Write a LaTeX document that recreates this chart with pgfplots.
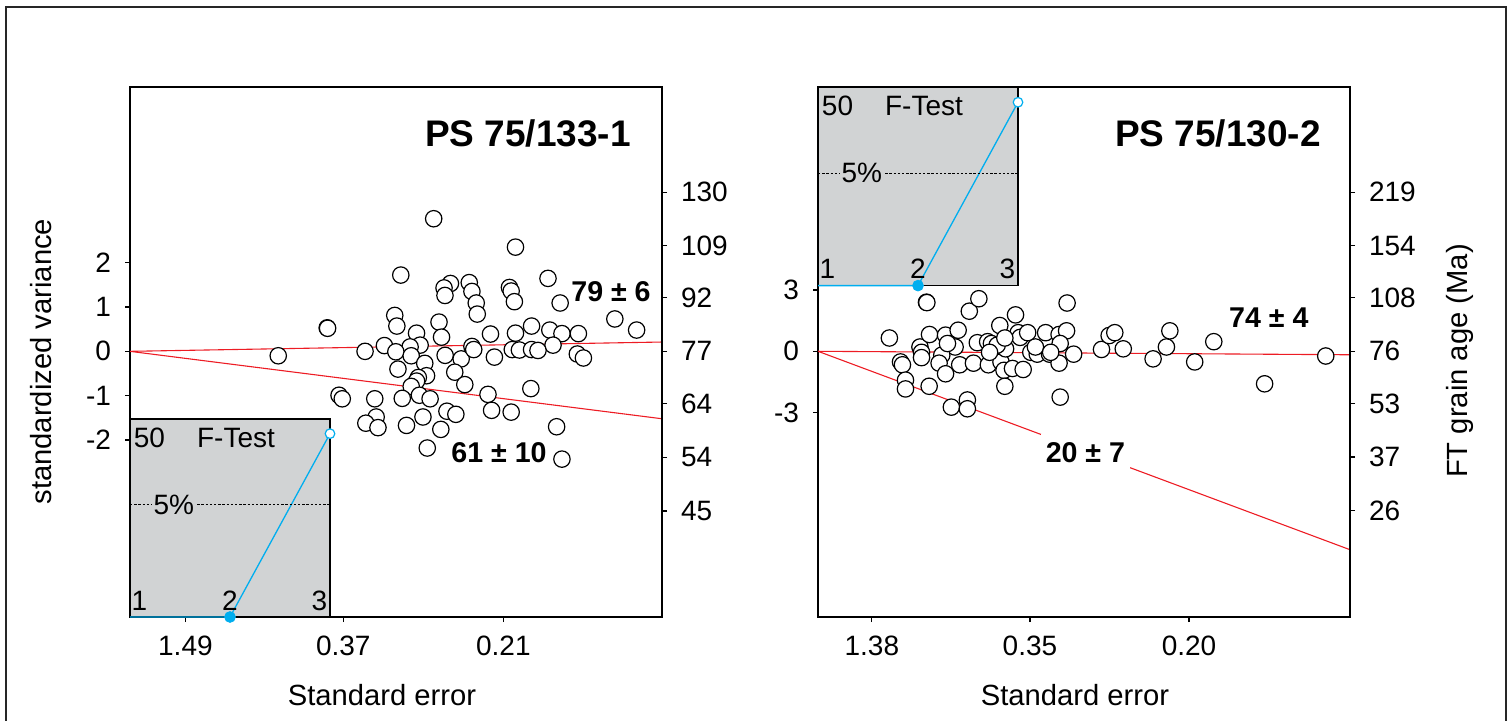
\documentclass[border=0pt]{standalone}
\usepackage{pgfplots}
\usepackage{pgfplotstable}
\pgfplotsset{compat=1.18}
\usepackage{fontspec}
\setmainfont{Liberation Sans}
\definecolor{insetgray}{RGB}{209,211,212}
\definecolor{ftblue}{RGB}{0,174,239}
\definecolor{radred}{RGB}{237,28,36}
\newcommand{\tfont}{\fontsize{14}{16}\selectfont}
\newcommand{\lfont}{\fontsize{14.6}{17}\selectfont}
\newcommand{\bfont}{\fontsize{14.3}{17}\selectfont\bfseries}
\newcommand{\Tfont}{\fontsize{18.5}{22}\selectfont\bfseries}

\pgfplotstableread{
x y
3.876 2.99
4.92 2.35
3.456 1.72
5.335 1.645
4.09 1.53
4.008 1.43
4.02 1.26
4.33 1.55
4.364 1.35
4.419 1.09
4.432 0.84
4.843 1.44
4.865 1.36
4.906 1.12
5.49 1.09
6.188 0.73
6.466 0.48
3.379 0.81
3.406 0.57
2.517 0.53
2.522 0.52
3.944 0.66
3.976 0.32
3.657 0.41
3.703 0.14
3.575 0.10
4.601 0.39
4.92 0.41
5.125 0.57
5.358 0.48
5.513 0.40
5.399 0.14
5.723 0.40
5.709 -0.06
5.787 -0.15
3.247 0.13
3.0 0.0
3.393 -0.01
1.892 -0.10
4.022 -0.09
4.227 -0.17
4.364 0.11
4.387 0.04
4.651 -0.13
4.879 0.04
4.970 0.03
5.125 0.04
5.207 0.02
3.589 -0.10
3.762 -0.27
3.785 -0.55
3.680 -0.59
3.657 -0.67
3.589 -0.79
3.42 -0.40
4.145 -0.47
4.273 -0.75
2.668 -0.99
2.709 -1.07
3.124 -1.07
3.142 -1.48
3.01 -1.62
3.165 -1.72
3.475 -1.06
3.694 -0.99
3.830 -1.07
4.569 -0.97
4.615 -1.33
4.865 -1.37
5.116 -0.84
4.045 -1.35
4.159 -1.42
3.739 -1.48
3.529 -1.67
3.967 -1.76
5.445 -1.70
3.794 -2.18
5.513 -2.43
}\leftdata

\pgfplotstableread{
x y
0.962 0.65
1.112 -0.52
1.138 -0.66
1.179 -1.41
1.179 -1.84
1.498 -1.71
1.374 0.21
1.395 -0.05
1.395 -0.31
1.503 0.82
1.462 2.40
1.467 2.38
1.719 0.79
1.786 0.38
1.889 1.03
1.848 0.21
1.668 -0.19
1.632 -0.58
1.719 -1.10
1.797 -2.73
2.013 -2.38
2.013 -2.81
1.910 -0.66
2.095 -0.58
2.039 1.96
2.168 2.57
2.147 0.42
2.286 0.47
2.337 0.38
2.296 -0.66
2.450 1.26
2.466 -0.52
2.507 -0.93
2.518 -1.71
2.528 0.12
2.621 -0.84
2.662 1.78
2.698 0.91
2.724 0.68
2.765 -0.89
2.826 0.91
2.868 -0.05
2.955 -0.14
3.068 0.91
3.120 -0.14
3.249 0.82
3.35 1.00
3.264 0.38
3.249 -0.58
3.264 -2.24
3.357 2.36
3.445 -0.14
3.821 0.09
3.924 0.77
4.000 0.91
4.114 0.12
4.516 -0.37
4.696 0.21
4.742 1.00
5.077 -0.52
5.334 0.47
6.019 -1.59
6.843 -0.23
2.415 0.30
2.312 -0.05
2.518 0.65
2.930 0.21
3.136 -0.05
1.745 0.38
}\rightdata

\pgfplotsset{
  radial/.style={
    scale only axis, width=266pt, height=265pt,
    axis line style={line width=0.7pt},
    tick align=outside, major tick length=2.5pt,
    every tick/.style={black, line width=0.6pt},
    tick label style={font=\tfont},
    xticklabel shift=3.5pt, yticklabel shift=3.5pt,
    /pgf/number format/assume math mode=true,
    anchor=south west,
  },
  inset/.style={
    scale only axis, width=100pt, height=99pt,
    anchor=south west,
    xmin=1, xmax=3, ymin=0, ymax=54,
    xtick=\empty, ytick=\empty,
    axis line style={line width=0.7pt},
    axis background/.style={fill=insetgray},
    clip=false,
  },
  grains/.style={only marks, mark=*, mark size=4.1pt,
    mark options={fill=white, draw=black, line width=0.6pt}},
}

\begin{document}
\begin{tikzpicture}
\path[use as bounding box] (0,0) rectangle (755pt,360pt);
\draw[line width=1.1pt, black!85] (2.8pt,-5pt) -- (2.8pt,356.6pt) -- (753pt,356.6pt) -- (753pt,-5pt);

% ---------- left plot ----------
\begin{axis}[radial, at={(65pt,51.5pt)},
  xmin=0, xmax=6.79, ymin=-5.99, ymax=5.96,
  xtick={0.707,2.722,4.765}, xticklabels={1.49,0.37,0.21},
  ytick={-2,-1,0,1,2}, yticklabels={-2,-1,0,1,2},
  xtick pos=bottom, ytick pos=left]
\addplot[grains] table {\leftdata};
\addplot[radred, line width=0.55pt] coordinates {(0,0) (6.79,0.21)};
\addplot[radred, line width=0.55pt] coordinates {(0,0) (6.79,-1.52)};
\end{axis}
\begin{axis}[radial, at={(65pt,51.5pt)},
  xmin=0, xmax=6.79, ymin=-5.99, ymax=5.96,
  axis x line=none, axis y line*=right, tick align=outside,
  ytick={-3.60,-2.39,-1.18,0,1.21,2.38,3.59},
  yticklabels={45,54,64,77,92,109,130}]
\end{axis}
\begin{axis}[inset, at={(65pt,51.5pt)}]
\addplot[ftblue, line width=0.65pt] coordinates {(1,0) (2,0) (3,50)};
\addplot[black, line width=0.55pt, dash pattern=on 1.2pt off 0.9pt] coordinates {(1,30.6) (3,30.6)};
\addplot[only marks, mark=*, mark size=2.7pt, ftblue] coordinates {(2,0)};
\addplot[only marks, mark=*, mark size=2.4pt, mark options={fill=white, draw=ftblue, line width=0.6pt}] coordinates {(3,50)};
\node[font=\tfont, fill=insetgray, inner sep=1pt] at (axis cs:1.438,30.6) {5\%};
\node[font=\tfont] at (axis cs:1.195,48.9) {50};
\node[font=\tfont] at (axis cs:2.06,48.9) {F-Test};
\node[font=\tfont] at (axis cs:1.093,4.5) {1};
\node[font=\tfont] at (axis cs:2,4.5) {2};
\node[font=\tfont] at (axis cs:2.895,4.5) {3};
\end{axis}

% ---------- right plot ----------
\begin{axis}[radial, at={(409pt,51.5pt)},
  xmin=0, xmax=7.17, ymin=-12.99, ymax=12.92,
  xtick={0.7255,2.857,5.0}, xticklabels={1.38,0.35,0.20},
  ytick={-3,0,3}, yticklabels={-3,0,3},
  xtick pos=bottom, ytick pos=left]
\addplot[grains] table {\rightdata};
\addplot[radred, line width=0.55pt] coordinates {(0,0) (7.17,-0.17)};
\addplot[radred, line width=0.55pt] coordinates {(0,0) (7.17,-9.70)};
\end{axis}
\begin{axis}[radial, at={(409pt,51.5pt)},
  xmin=0, xmax=7.17, ymin=-12.99, ymax=12.92,
  axis x line=none, axis y line*=right, tick align=outside,
  ytick={-7.80,-5.17,-2.55,0,2.62,5.16,7.78},
  yticklabels={26,37,53,76,108,154,219}]
\end{axis}
\begin{axis}[inset, at={(409pt,217.2pt)}]
\addplot[ftblue, line width=0.65pt] coordinates {(1,0) (2,0) (3,50)};
\addplot[black, line width=0.55pt, dash pattern=on 1.2pt off 0.9pt] coordinates {(1,30.6) (3,30.6)};
\addplot[only marks, mark=*, mark size=2.7pt, ftblue] coordinates {(2,0)};
\addplot[only marks, mark=*, mark size=2.4pt, mark options={fill=white, draw=ftblue, line width=0.6pt}] coordinates {(3,50)};
\node[font=\tfont, fill=insetgray, inner sep=1pt] at (axis cs:1.438,30.6) {5\%};
\node[font=\tfont] at (axis cs:1.195,48.9) {50};
\node[font=\tfont] at (axis cs:2.06,48.9) {F-Test};
\node[font=\tfont] at (axis cs:1.093,4.5) {1};
\node[font=\tfont] at (axis cs:2,4.5) {2};
\node[font=\tfont] at (axis cs:2.895,4.5) {3};
\end{axis}

% ---------- labels ----------
\node[font=\Tfont] at (264pt,293.2pt) {PS 75/133-1};
\node[font=\bfont] at (305.5pt,214pt) {79 ± 6};
\node[font=\bfont] at (249.5pt,133.5pt) {61 ± 10};
\node[font=\Tfont] at (609pt,293.2pt) {PS 75/130-2};
\node[font=\bfont] at (634.4pt,201.1pt) {74 ± 4};
\node[font=\bfont, fill=white, inner xsep=2.5pt, inner ysep=4.5pt] at (542.7pt,133.6pt) {20 ± 7};

\node[font=\lfont, rotate=90] at (20.5pt,179.2pt) {standardized variance};
\node[font=\lfont, rotate=90] at (730pt,179.5pt) {FT grain age (Ma)};
\node[font=\lfont] at (191pt,12.5pt) {Standard error};
\node[font=\lfont] at (537.5pt,12.5pt) {Standard error};
\end{tikzpicture}
\end{document}
